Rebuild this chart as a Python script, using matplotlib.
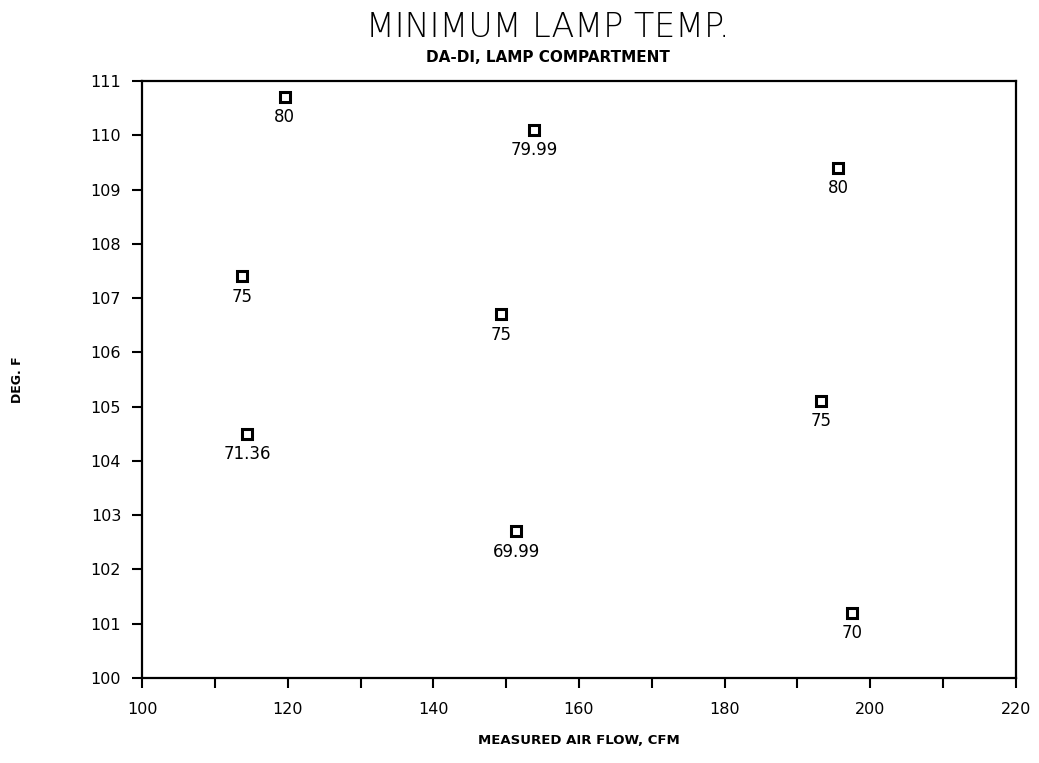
import numpy as np
import matplotlib
matplotlib.use("Agg")
import matplotlib.pyplot as plt

# measured air flow (CFM), min lamp temp (deg F), point labels
air_flow = [119.6, 153.8, 195.6, 113.7, 149.3, 114.4, 193.2, 151.4, 197.5]
lamp_temp = [110.7, 110.1, 109.4, 107.4, 106.7, 104.5, 105.1, 102.7, 101.2]
labels = ["80", "79.99", "80", "75", "75", "71.36", "75", "69.99", "70"]

fig = plt.figure(figsize=(10.39, 7.63), dpi=100)
ax = fig.add_axes([0.1367, 0.1114, 0.8411, 0.7824])

ax.plot(air_flow, lamp_temp, linestyle="none", marker="s", markersize=7.5,
        markerfacecolor="white", markeredgecolor="black", markeredgewidth=2.2)
for x, y, s in zip(air_flow, lamp_temp, labels):
    ax.annotate(s, (x, y), xytext=(0, -8), textcoords="offset points",
                ha="center", va="top", fontsize=12, color="black")

ax.set_xlim(100, 220)
ax.set_ylim(100, 111)
ax.set_xticks(np.arange(100, 221, 20))
ax.set_xticks(np.arange(110, 220, 20), minor=True)
ax.set_yticks(np.arange(100, 112, 1))
ax.tick_params(axis="both", which="both", direction="out", width=1.5,
               labelsize=11.5, length=7)
ax.tick_params(axis="x", pad=10)
ax.tick_params(axis="y", pad=8)
for sp in ax.spines.values():
    sp.set_linewidth(1.6)

fig.text(0.527, 0.964, "MINIMUM LAMP TEMP.", ha="center", va="center",
         fontsize=24, fontweight="light")
fig.text(0.527, 0.925, "DA-DI, LAMP COMPARTMENT", ha="center", va="center",
         fontsize=11, fontweight="bold")
fig.text(0.557, 0.029, "MEASURED AIR FLOW, CFM", ha="center", va="center",
         fontsize=9.5, fontweight="bold")
fig.text(0.017, 0.503, "DEG. F", ha="center", va="center", rotation=90,
         fontsize=9, fontweight="bold")

fig.savefig("out.png", dpi=100)
